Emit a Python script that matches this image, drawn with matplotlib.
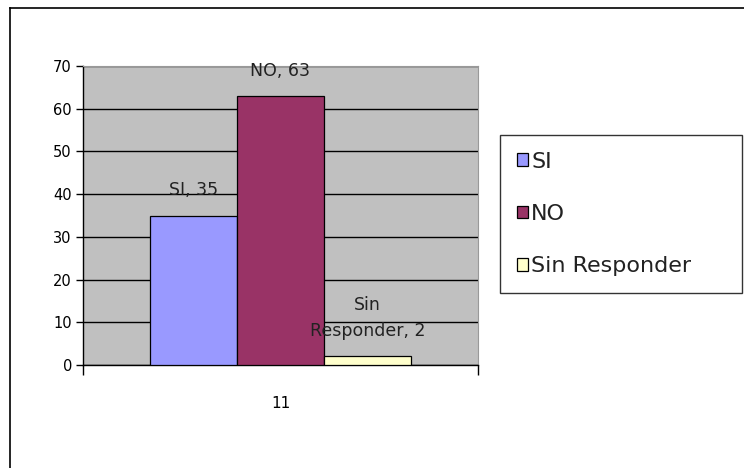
import matplotlib.pyplot as plt
from matplotlib.lines import Line2D

categories = ["SI", "NO", "Sin Responder"]
values = [35, 63, 2]
value_labels = ["SI, 35", "NO, 63", "Sin\nResponder, 2"]
colors = ["#9999FF", "#993366", "#FFFFCC"]
group_label = "11"
yticks = [0, 10, 20, 30, 40, 50, 60, 70]

fig = plt.figure(figsize=(7.44, 4.68), dpi=100)
ax = fig.add_axes([83 / 744, 103 / 468, 395 / 744, 299 / 468])
ax.set_facecolor("#C0C0C0")

w = 0.221
offsets = [-w, 0, w]
bars = ax.bar(offsets, values, width=w, color=colors, edgecolor="black",
              linewidth=0.9, zorder=3)

for bar, lab in zip(bars, value_labels):
    ax.annotate(lab, (bar.get_x() + bar.get_width() / 2, bar.get_height()),
                xytext=(0, 14.5), textcoords="offset points",
                ha="center", va="baseline", fontsize=12.5, color="#222222",
                linespacing=1.6, zorder=4)

ax.set_xlim(-0.5, 0.5)
ax.set_ylim(0, 70)
ax.set_yticks(yticks)
ax.tick_params(axis="y", length=5, width=1, labelsize=10.5, pad=3)
ax.grid(axis="y", color="black", linewidth=1, zorder=0)

# category label in the middle, tick marks only at the ends of the axis
ax.set_xticks([0])
ax.set_xticklabels([group_label], fontsize=11)
ax.tick_params(axis="x", which="major", length=0, pad=22)
ax.set_xticks([-0.5, 0.5], minor=True)
ax.tick_params(axis="x", which="minor", length=7, width=1, direction="out")

for s in ["top", "right"]:
    ax.spines[s].set_color("#999999")
    ax.spines[s].set_linewidth(0.8)
for s in ["left", "bottom"]:
    ax.spines[s].set_color("black")
    ax.spines[s].set_linewidth(1)

leg = fig.legend(bars, categories, loc="upper left",
                 bbox_to_anchor=(500 / 744, 1 - 294 / 468, 242 / 744, 159 / 468),
                 mode="expand", borderaxespad=0, fontsize=16, frameon=True,
                 fancybox=False, framealpha=1, edgecolor="#333333",
                 borderpad=0.75, labelspacing=1.45, handlelength=0.5,
                 handleheight=0.5, handletextpad=0.15)
leg.get_frame().set_linewidth(1)
for t in leg.get_texts():
    t.set_color("#222222")

# outer chart border
fig.add_artist(Line2D([10 / 744, 10 / 744], [0, 1 - 8 / 468], color="black", linewidth=1.2))
fig.add_artist(Line2D([10 / 744, 1], [1 - 8 / 468, 1 - 8 / 468], color="black", linewidth=1.2))

fig.savefig("out.png", dpi=100, facecolor="white")
